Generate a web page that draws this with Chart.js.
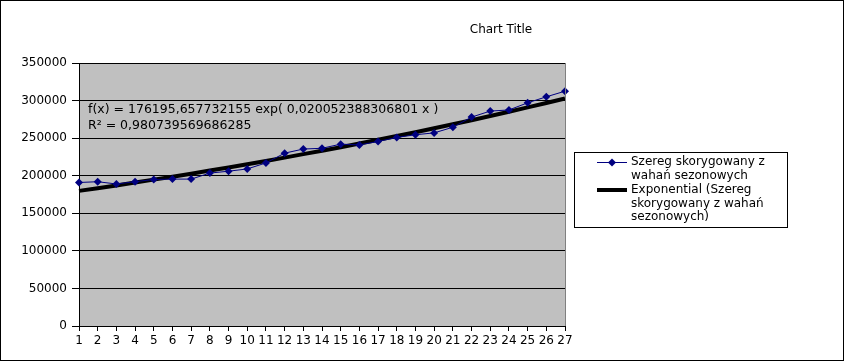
<!DOCTYPE html>
<html>
<head>
<meta charset="utf-8">
<script src="https://cdn.jsdelivr.net/npm/chart.js@4"></script>
<style>
  body { margin: 0; background: #fff; }
  #wrap { width: 845px; height: 362px; }
</style>
</head>
<body>
<div id="wrap"><canvas id="myChart" width="845" height="362"></canvas></div>
<script>
const xLabels = ["1","2","3","4","5","6","7","8","9","10","11","12","13","14","15","16","17","18","19","20","21","22","23","24","25","26","27"];
const seriesValues = [191000, 192000, 189000, 192000, 195000, 195500, 195500, 203500, 206000, 209000, 217000, 230000, 235500, 236500, 242000, 241000, 245500, 251000, 254500, 257000, 264500, 278000, 286000, 287500, 297000, 305000, 312500];
const trendValues = [179800, 183400, 187100, 190900, 194800, 198700, 202700, 206900, 211000, 215300, 219700, 224100, 228700, 233300, 238000, 242800, 247800, 252800, 257900, 263100, 268500, 273900, 279400, 285100, 290900, 296800, 302800];
const yMin = 0;
const yMax = 350000;
const yStep = 50000;

const chartTitle = "Chart Title";
const seriesName = "Szereg skorygowany z wahań sezonowych";
const trendName = "Exponential (Szereg skorygowany z wahań sezonowych)";
const seriesLegendLines = ["Szereg skorygowany z", "wahań sezonowych"];
const trendLegendLines = ["Exponential (Szereg", "skorygowany z wahań", "sezonowych)"];
const equationLines = ["f(x) = 176195,657732155 exp( 0,020052388306801 x )", "R² = 0,980739569686285"];

Chart.defaults.font.family = "'DejaVu Sans', sans-serif";
Chart.defaults.font.size = 12;
Chart.defaults.color = "#000";

// gray plot area, borders, title, equation and legend
const decorations = {
  id: "decorations",
  beforeDraw(chart) {
    const { ctx, chartArea: a } = chart;
    ctx.save();
    ctx.fillStyle = "#fff";
    ctx.fillRect(0, 0, chart.width, chart.height);
    ctx.fillStyle = "#c0c0c0";
    ctx.fillRect(a.left, a.top, a.right - a.left, a.bottom - a.top);
    ctx.restore();
  },
  afterDraw(chart) {
    const { ctx, chartArea: a } = chart;
    ctx.save();
    // right edge of plot
    ctx.strokeStyle = "#808080";
    ctx.lineWidth = 1;
    ctx.beginPath();
    ctx.moveTo(a.right + 0.5, a.top);
    ctx.lineTo(a.right + 0.5, a.bottom);
    ctx.stroke();

    // outer frame
    ctx.strokeStyle = "#000";
    ctx.strokeRect(0.5, 0.5, 843, 360);

    ctx.fillStyle = "#000";
    ctx.font = "12px 'DejaVu Sans'";
    ctx.textBaseline = "middle";

    // title
    ctx.textAlign = "center";
    ctx.fillText(chartTitle, 501, 30);

    // trend equation
    ctx.textAlign = "left";
    ctx.font = "12.5px 'DejaVu Sans'";
    ctx.fillText(equationLines[0], 88, 110);
    ctx.fillText(equationLines[1], 88, 126);
    ctx.font = "12px 'DejaVu Sans'";

    // legend box
    ctx.strokeRect(574.5, 152.5, 213, 75);
    ctx.strokeStyle = "#000080";
    ctx.beginPath();
    ctx.moveTo(597, 162.5);
    ctx.lineTo(627, 162.5);
    ctx.stroke();
    ctx.fillStyle = "#000080";
    ctx.beginPath();
    ctx.moveTo(612, 158.5);
    ctx.lineTo(616, 162.5);
    ctx.lineTo(612, 166.5);
    ctx.lineTo(608, 162.5);
    ctx.closePath();
    ctx.fill();
    ctx.strokeStyle = "#000";
    ctx.lineWidth = 4;
    ctx.beginPath();
    ctx.moveTo(597, 190);
    ctx.lineTo(627, 190);
    ctx.stroke();

    ctx.fillStyle = "#000";
    let y = 162;
    seriesLegendLines.forEach((line) => {
      ctx.fillText(line, 631, y);
      y += 13.5;
    });
    y = 190;
    trendLegendLines.forEach((line) => {
      ctx.fillText(line, 631, y);
      y += 13.5;
    });
    ctx.restore();
  },
};

new Chart("myChart", {
  type: "line",
  data: {
    labels: xLabels,
    datasets: [
      {
        label: seriesName,
        data: seriesValues,
        borderColor: "#000080",
        backgroundColor: "#000080",
        borderWidth: 1,
        pointStyle: "rectRot",
        pointRadius: 4,
        pointBorderWidth: 0,
        tension: 0,
        order: 1,
      },
      {
        label: trendName,
        data: trendValues,
        borderColor: "#000",
        borderWidth: 4,
        pointRadius: 0,
        tension: 0,
        order: 2,
      },
    ],
  },
  options: {
    responsive: false,
    animation: false,
    layout: {
      padding: { left: 0, right: 280, top: 63, bottom: 0 },
    },
    plugins: {
      legend: { display: false },
      title: { display: false },
      tooltip: { enabled: false },
    },
    scales: {
      x: {
        offset: false,
        grid: {
          drawOnChartArea: false,
          drawTicks: true,
          tickLength: 5,
          color: "#000",
        },
        border: { color: "#000" },
        ticks: { padding: 3, maxRotation: 0, autoSkip: false },
        afterFit(scale) {
          scale.height = 36;
        },
      },
      y: {
        min: yMin,
        max: yMax,
        grid: {
          color: "#000",
          tickLength: 7,
        },
        border: { color: "#000" },
        ticks: {
          stepSize: yStep,
          padding: 5,
          callback: (value) => String(value), // no thousands separator
        },
        afterFit(scale) {
          scale.width = 79;
        },
      },
    },
  },
  plugins: [decorations],
});
</script>
</body>
</html>
